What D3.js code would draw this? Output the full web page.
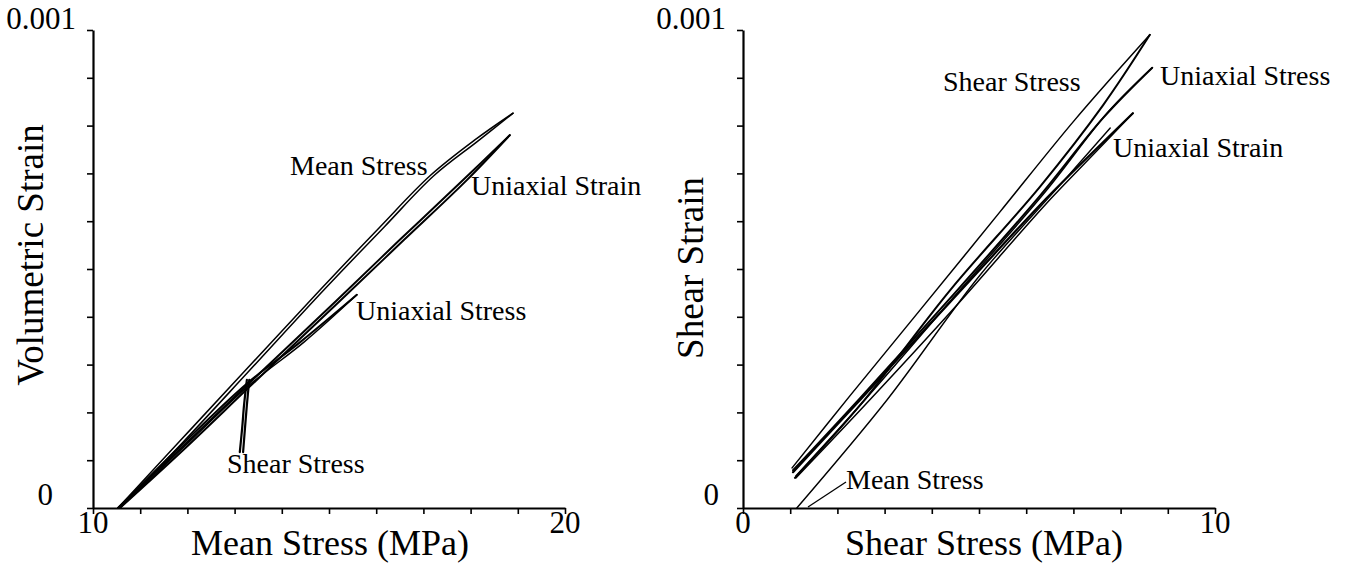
<!DOCTYPE html>
<html><head><meta charset="utf-8">
<script src="https://cdn.jsdelivr.net/npm/d3@7"></script>
<style>body{margin:0;background:#fff}svg text{font-family:"Liberation Serif","Times New Roman",serif;fill:#000}</style>
</head><body>
<svg id="c" width="1352" height="564"></svg>
<script>
// ---------- data ----------
const leftXDomain = [10, 20];
const rightXDomain = [0, 10];
const yDomain = [0, 0.001];
const leftXTickLabels = [10, 20];
const rightXTickLabels = [0, 10];
const yTickLabels = ["0", "0.001"];
const xTickCount = 10;
const yTickCount = 10;

// Left panel: volumetric strain vs mean stress (MPa) — upper and lower loop branches
const volMeanStressUp = [[10.53,0],[11.84,0.000140],[13.22,0.000287],[14.81,0.000456],[16.08,0.000588],[17.14,0.000695],[18.09,0.000770],[18.90,0.000826]];
const volMeanStressDn = [[18.90,0.000826],[18.16,0.000768],[17.22,0.000695],[16.17,0.000588],[14.89,0.000456],[13.31,0.000287],[11.93,0.000140],[10.57,0]];
const volUniStrainUp = [[10.53,0],[11.84,0.000123],[13.22,0.000253],[15.15,0.000433],[16.50,0.000561],[17.84,0.000686],[18.83,0.000780]];
const volUniStrainDn = [[18.83,0.000780],[17.92,0.000686],[16.59,0.000561],[15.23,0.000433],[13.31,0.000253],[11.93,0.000123],[10.57,0]];
const volUniStressUp = [[10.53,0],[11.84,0.000128],[13.22,0.000257],[14.39,0.000347],[15.59,0.000446]];
const volUniStressDn = [[15.59,0.000446],[14.47,0.000347],[13.31,0.000257],[11.93,0.000128],[10.57,0]];
const volShearStressDn = [[13.26,0.000268],[13.20,0.000215],[13.16,0.000167],[13.11,0.000117]];
const volShearStressUp = [[13.18,0.000117],[13.22,0.000167],[13.26,0.000215],[13.31,0.000268]];

// Right panel: shear strain vs shear stress (MPa)
const shShearStressUp = [[1.04,0.000084],[2.26,0.000234],[3.75,0.000414],[5.44,0.000619],[7.03,0.000812],[8.62,0.000990]];
const shShearStressDn = [[8.62,0.000990],[7.63,0.000843],[6.29,0.000672],[4.39,0.000456],[2.48,0.000215],[1.10,0.000063]];
const shUniStressUp = [[1.06,0.000079],[2.48,0.000230],[4.39,0.000439],[6.29,0.000653],[7.63,0.000816],[8.67,0.000921]];
const shUniStressDn = [[8.67,0.000921],[7.73,0.000828],[6.40,0.000661],[4.49,0.000444],[2.58,0.000226],[1.12,0.000067]];
const shUniStrainUp = [[1.06,0.000075],[2.48,0.000226],[4.39,0.000431],[6.44,0.000649],[7.46,0.000749],[8.26,0.000826]];
const shUniStrainDn = [[8.26,0.000826],[7.35,0.000732],[6.40,0.000634],[4.49,0.000420],[2.58,0.000215],[1.12,0.000063]];
const shMeanStress = [[1.14,0],[3.05,0.000226],[5.02,0.000487],[6.72,0.000676],[7.78,0.000795]];

// ---------- drawing ----------
const svg = d3.select("#c");
const FONT_TICK = 31, FONT_XTITLE = 36, FONT_YTITLE = 37, FONT_LBL = 28;

function panel(cfg) {
  const x = d3.scaleLinear().domain(cfg.xDomain).range([cfg.left, cfg.left + 472]);
  const y = d3.scaleLinear().domain(yDomain).range([508, 30]);
  const g = svg.append("g");

  const xa = g.append("g").attr("transform", "translate(0,508)")
    .call(d3.axisBottom(x).ticks(xTickCount).tickSize(6).tickSizeOuter(0).tickFormat(""));
  const ya = g.append("g").attr("transform", `translate(${cfg.left},0)`)
    .call(d3.axisLeft(y).ticks(yTickCount).tickSize(6).tickSizeOuter(0).tickFormat(""));
  [xa, ya].forEach(a => {
    a.select(".domain").attr("stroke", "#000").attr("stroke-width", 2.2);
    a.selectAll(".tick line").attr("stroke", "#000").attr("stroke-width", 1.6);
  });

  // tick labels
  g.selectAll(".xl").data(cfg.xLabels).join("text")
    .attr("x", d => x(d)).attr("y", 533).attr("text-anchor", "middle")
    .attr("font-size", FONT_TICK).text(d => d);
  g.append("text").attr("x", cfg.y0x).attr("y", 505).attr("text-anchor", "end")
    .attr("font-size", FONT_TICK).text(yTickLabels[0]);
  g.append("text").attr("x", cfg.y1x).attr("y", 29).attr("text-anchor", "end")
    .attr("font-size", FONT_TICK).text(yTickLabels[1]);

  // titles
  g.append("text").attr("x", cfg.xTitleX).attr("y", 555).attr("text-anchor", "middle")
    .attr("font-size", FONT_XTITLE).text(cfg.xTitle);
  g.append("text").attr("transform", `translate(${cfg.yTitleX},${cfg.yTitleY}) rotate(-90)`)
    .attr("text-anchor", "middle").attr("font-size", FONT_YTITLE).text(cfg.yTitle);

  const line = d3.line().x(d => x(d[0])).y(d => y(d[1])).curve(d3.curveCatmullRom.alpha(0.5));
  cfg.curves.forEach(c => {
    g.append("path").attr("d", line(c.data)).attr("fill", "none")
      .attr("stroke", "#000").attr("stroke-width", c.w || 1.5)
      .attr("stroke-linejoin", "round").attr("stroke-linecap", "round");
  });
  cfg.labels.forEach(l => {
    g.append("text").attr("x", l.x).attr("y", l.y).attr("font-size", FONT_LBL).text(l.t);
  });
  return {x, y, g};
}

panel({
  left: 93, xDomain: leftXDomain, xLabels: leftXTickLabels, y0x: 53, y1x: 76,
  xTitle: "Mean Stress (MPa)", xTitleX: 330, yTitle: "Volumetric Strain", yTitleX: 43, yTitleY: 255,
  curves: [
    {data: volMeanStressUp}, {data: volMeanStressDn},
    {data: volUniStrainUp, w: 2}, {data: volUniStrainDn, w: 2},
    {data: volUniStressUp, w: 2}, {data: volUniStressDn, w: 1.5},
    {data: volShearStressDn, w: 2.2}, {data: volShearStressUp, w: 2.2}
  ],
  labels: [
    {t: "Mean Stress", x: 290, y: 175},
    {t: "Uniaxial Strain", x: 471, y: 195},
    {t: "Uniaxial Stress", x: 356, y: 320},
    {t: "Shear Stress", x: 227, y: 473}
  ]
});

const R = panel({
  left: 743, xDomain: rightXDomain, xLabels: rightXTickLabels, y0x: 719, y1x: 726,
  xTitle: "Shear Stress (MPa)", xTitleX: 984, yTitle: "Shear Strain", yTitleX: 703, yTitleY: 268,
  curves: [
    {data: shShearStressUp}, {data: shShearStressDn, w: 2},
    {data: shUniStressUp, w: 2}, {data: shUniStressDn, w: 1.5},
    {data: shUniStrainUp, w: 2.2}, {data: shUniStrainDn, w: 1.5},
    {data: shMeanStress, w: 1.4}
  ],
  labels: [
    {t: "Shear Stress", x: 943, y: 91},
    {t: "Uniaxial Stress", x: 1160, y: 85},
    {t: "Uniaxial Strain", x: 1113, y: 157},
    {t: "Mean Stress", x: 846, y: 489}
  ]
});
// leader line for the right "Mean Stress" label
R.g.append("line").attr("x1", 846).attr("y1", 482).attr("x2", 808).attr("y2", 507)
  .attr("stroke", "#000").attr("stroke-width", 1.3);
</script>
</body></html>
